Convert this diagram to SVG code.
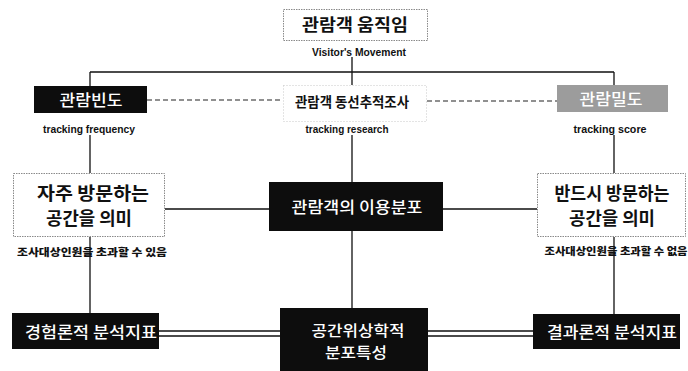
<svg xmlns="http://www.w3.org/2000/svg" width="688" height="371" viewBox="0 0 688 371">
<style>
.kr{font-family:"Noto Sans CJK KR","Noto Sans",sans-serif;text-anchor:middle}
.w{fill:#fff;font-weight:500}
.b{fill:#111;font-weight:700}
.en{font-family:"Liberation Sans",Arial,sans-serif;font-weight:700;font-size:10px;fill:#111;text-anchor:middle}
.sm{font-family:"Noto Sans CJK KR",sans-serif;font-weight:900;font-size:10.5px;fill:#111;text-anchor:middle}
.wb{fill:#fff;stroke:#8a8a8a;stroke-width:1;stroke-dasharray:1.5 1}
.fb{fill:#fff;stroke:#c8c8c8;stroke-width:1;stroke-dasharray:1 2}
.bk{fill:#0d0d0d}
.ln{stroke:#111;stroke-width:1.3;fill:none}
.ds{stroke:#222;stroke-width:1.2;stroke-dasharray:5 3;fill:none}
</style>
<rect width="688" height="371" fill="#fff"/>
<g id="connectors">
<path class="ln" d="M90 72H614M90 72V86M614 72V85M352 57V85M90 135V173M352 135V182M614 135V173M90 237V313M614 237V314M352 231V308M165 209H269M443 209H537"/>
<path class="ds" d="M147 100H283M427 101H557"/>
<path class="ln" stroke-width="1.1" d="M159 331H280M159 336H280M428 331H533M428 336H533"/>
</g>
<g id="top">
<rect class="wb" x="283.5" y="9.5" width="144" height="31"/>
<text class="kr b" x="355" y="31" font-size="17" textLength="106" lengthAdjust="spacingAndGlyphs">관람객 움직임</text>
<text class="en" x="359" y="55.5" textLength="94" lengthAdjust="spacingAndGlyphs">Visitor's Movement</text>
</g>
<g id="freq">
<rect class="bk" x="34" y="86" width="113" height="27"/>
<text class="kr w" x="91" y="105.5" font-size="16" textLength="63" lengthAdjust="spacingAndGlyphs">관람빈도</text>
<text class="en" x="89" y="132.5" textLength="92" lengthAdjust="spacingAndGlyphs">tracking frequency</text>
</g>
<g id="research">
<rect class="fb" x="283.5" y="85.5" width="143" height="36"/>
<text class="kr b" x="352" y="107" font-size="14" textLength="114" lengthAdjust="spacingAndGlyphs">관람객 동선추적조사</text>
<text class="en" x="347" y="132.5" textLength="83" lengthAdjust="spacingAndGlyphs">tracking research</text>
</g>
<g id="score">
<rect x="557" y="85" width="111" height="27" fill="#9c9c9c"/>
<text class="kr w" x="611" y="104.5" font-size="16" textLength="63" lengthAdjust="spacingAndGlyphs">관람밀도</text>
<text class="en" x="610" y="132.5" textLength="73" lengthAdjust="spacingAndGlyphs">tracking score</text>
</g>
<g id="frequent">
<rect class="wb" x="13.5" y="173.5" width="151" height="63"/>
<text class="kr b" x="93" y="200" font-size="18" textLength="112" lengthAdjust="spacingAndGlyphs">자주 방문하는</text>
<text class="kr b" x="89" y="224.5" font-size="18" textLength="86" lengthAdjust="spacingAndGlyphs">공간을 의미</text>
<text class="sm" x="92" y="256" textLength="150" lengthAdjust="spacingAndGlyphs">조사대상인원을 초과할 수 있음</text>
</g>
<g id="distribution">
<rect class="bk" x="269" y="182" width="174" height="49"/>
<text class="kr w" x="357" y="212.5" font-size="16" textLength="131" lengthAdjust="spacingAndGlyphs">관람객의 이용분포</text>
</g>
<g id="necessary">
<rect class="wb" x="537.5" y="173.5" width="148" height="63"/>
<text class="kr b" x="612" y="200" font-size="18" textLength="115" lengthAdjust="spacingAndGlyphs">반드시 방문하는</text>
<text class="kr b" x="612" y="224.5" font-size="18" textLength="86" lengthAdjust="spacingAndGlyphs">공간을 의미</text>
<text class="sm" x="616" y="255" textLength="143" lengthAdjust="spacingAndGlyphs">조사대상인원을 초과할 수 없음</text>
</g>
<g id="empirical">
<rect class="bk" x="12" y="313" width="147" height="36"/>
<text class="kr w" x="91" y="337.5" font-size="16" textLength="132" lengthAdjust="spacingAndGlyphs">경험론적 분석지표</text>
</g>
<g id="topology">
<rect class="bk" x="280" y="308" width="148" height="63"/>
<text class="kr w" x="358" y="336" font-size="15" textLength="93" lengthAdjust="spacingAndGlyphs">공간위상학적</text>
<text class="kr w" x="356" y="358" font-size="15" textLength="62" lengthAdjust="spacingAndGlyphs">분포특성</text>
</g>
<g id="result">
<rect class="bk" x="533" y="314" width="147" height="35"/>
<text class="kr w" x="612" y="337.5" font-size="16" textLength="130" lengthAdjust="spacingAndGlyphs">결과론적 분석지표</text>
</g>
</svg>
